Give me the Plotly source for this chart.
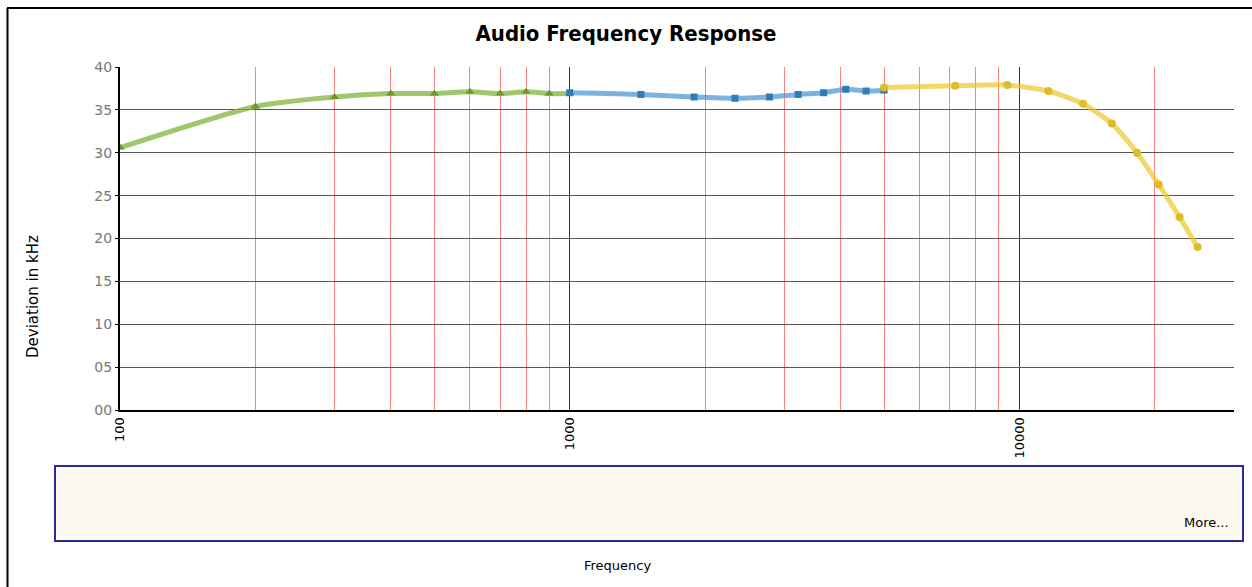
import plotly.graph_objects as go
import math

# ---- data ----
low_freq = [100, 200, 300, 400, 500, 600, 700, 800, 900, 1000]
low_dev = [30.6, 35.4, 36.5, 36.9, 36.9, 37.1, 36.9, 37.1, 36.9, 36.9]

mid_freq = [1000, 1440, 1890, 2330, 2780, 3220, 3670, 4110, 4560, 5000]
mid_dev = [37.0, 36.8, 36.5, 36.35, 36.5, 36.8, 37.0, 37.4, 37.2, 37.3]

high_freq = [5000, 7200, 9400, 11600, 13850, 16050, 18250, 20400, 22700, 24900]
high_dev = [37.6, 37.8, 37.9, 37.2, 35.7, 33.4, 30.0, 26.3, 22.5, 19.0]

major_ticks = [100, 1000, 10000]
major_labels = ["100", "1000", "10000"]
minor_ticks = [200, 300, 400, 500, 600, 700, 800, 900,
               2000, 3000, 4000, 5000, 6000, 7000, 8000, 9000,
               20000, 30000]
y_ticks = [0, 5, 10, 15, 20, 25, 30, 35, 40]

fig = go.Figure()

series = [
    (low_freq, low_dev, "rgba(130,180,60,0.75)", "#6a9a2a", "triangle-up", 8),
    (mid_freq, mid_dev, "rgba(70,145,205,0.7)", "#2f7db8", "square", 7),
    (high_freq, high_dev, "rgba(235,200,40,0.7)", "#dcbc28", "circle", 8),
]
for xs, ys, lc, mc, sym, ms in series:
    fig.add_trace(go.Scatter(
        x=xs, y=ys, mode="lines+markers",
        line=dict(color=lc, width=5, shape="spline", smoothing=0.6),
        marker=dict(color=mc, symbol=sym, size=ms),
        showlegend=False, hoverinfo="x+y",
    ))

W, H = 1252, 587
L, R, T, B = 120, 18, 67, 177
pw, ph = W - L - R, H - T - B

def px(xpix):
    return (xpix - L) / pw

def py(ypix):
    return (H - B - ypix) / ph

TXT = "DejaVu Sans, Verdana, sans-serif"

fig.update_layout(
    width=W, height=H,
    margin=dict(l=L, r=R, t=T, b=B),
    paper_bgcolor="white", plot_bgcolor="white",
    title=dict(text="<b>Audio Frequency Response</b>", x=0.5, xanchor="center",
               y=1 - 33 / H, yanchor="middle",
               font=dict(family="DejaVu Sans Condensed, DejaVu Sans, Arial", size=22, color="black")),
    font=dict(family=TXT),
    xaxis=dict(
        type="log", range=[2, math.log10(30000)],
        tickmode="array", tickvals=major_ticks, ticktext=major_labels,
        tickangle=-90, tickfont=dict(size=13, color="black"),
        showgrid=True, gridcolor="#5a2a2a", gridwidth=1,
        minor=dict(tickmode="array", tickvals=minor_ticks, showgrid=True,
                   gridcolor="rgba(255,90,90,0.75)", gridwidth=1.3, ticklen=0),
        showline=True, linecolor="black", linewidth=2,
        ticks="", zeroline=False,
    ),
    yaxis=dict(
        range=[0, 40], tickmode="array", tickvals=y_ticks,
        tickformat="02d", tickfont=dict(size=14, color="#777777"),
        showgrid=True, gridcolor="#555555", gridwidth=1,
        showline=True, linecolor="black", linewidth=2,
        ticks="outside", ticklen=3, tickcolor="black",
        zeroline=False,
    ),
)

fig.add_annotation(text="Deviation in kHz", xref="paper", yref="paper",
                   x=px(33), y=py(297), xanchor="center", yanchor="middle",
                   textangle=-90, showarrow=False,
                   font=dict(size=15, color="black", family=TXT))
fig.add_annotation(text="Frequency", xref="paper", yref="paper",
                   x=px(617), y=py(565), xanchor="center", yanchor="middle",
                   showarrow=False,
                   font=dict(size=13, color="black", family=TXT))

# legend-like box
fig.add_shape(type="rect", xref="paper", yref="paper",
              x0=px(55), x1=px(1243), y0=py(541), y1=py(466),
              line=dict(color="#2a2a9a", width=2), fillcolor="#fdf9f0", layer="below")
fig.add_annotation(text="More...", xref="paper", yref="paper",
                   x=px(1231), y=py(522), xanchor="right", yanchor="middle",
                   showarrow=False,
                   font=dict(size=13, color="black", family=TXT))

# outer frame lines (top and left)
fig.add_shape(type="line", xref="paper", yref="paper",
              x0=px(7), x1=px(1252), y0=py(8), y1=py(8),
              line=dict(color="black", width=2))
fig.add_shape(type="line", xref="paper", yref="paper",
              x0=px(7.5), x1=px(7.5), y0=py(8), y1=py(587),
              line=dict(color="black", width=2))

fig.write_html("out.html", config={"displayModeBar": False},
               post_script="document.body.style.margin='0';document.body.style.overflow='hidden';")
